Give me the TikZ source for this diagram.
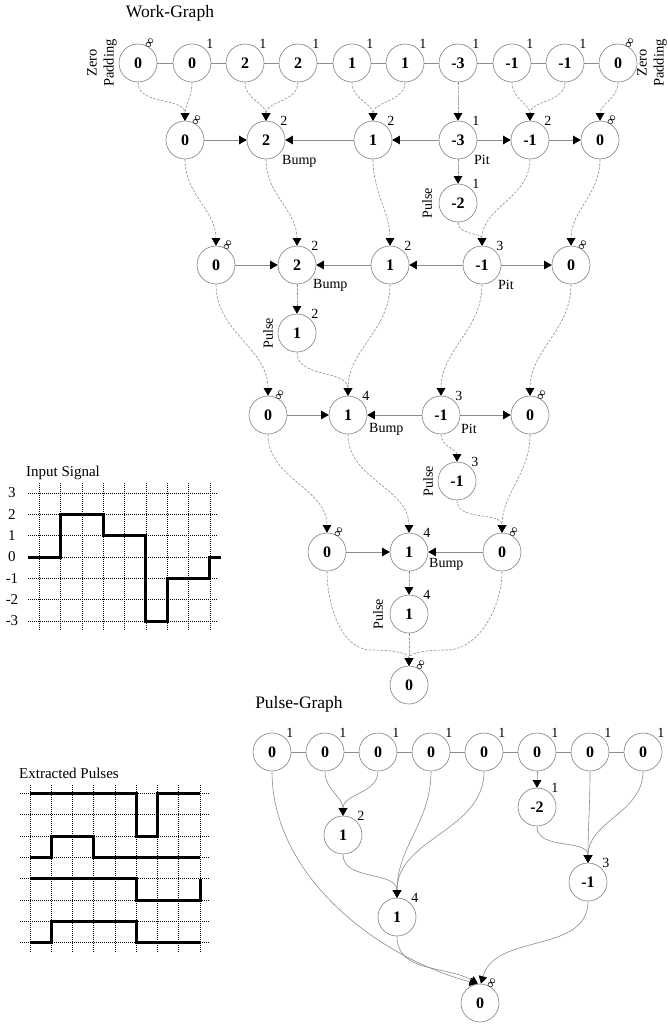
\documentclass[tikz,border=0pt]{standalone}
\usepackage{fontspec}
\setmainfont{Liberation Serif}
\usetikzlibrary{arrows.meta}
\begin{document}
\begin{tikzpicture}[x=1pt,y=-1pt,
  nd/.style={circle,draw=black!50,line width=0.6pt,minimum size=38pt,inner sep=0pt,font=\fontsize{16}{16}\selectfont\bfseries},
  lbl/.style={font=\fontsize{14}{14}\selectfont,inner sep=0.5pt},
  lab/.style={label={[lbl]45:#1}},
  linf/.style={label={[lbl,rotate=60,anchor=center,label distance=6pt]45:∞}},
  title/.style={font=\fontsize{17.5}{18}\selectfont,inner sep=0pt},
  stitle/.style={font=\fontsize{15}{16}\selectfont,inner sep=0pt},
  pad/.style={font=\fontsize{14.5}{17}\selectfont,rotate=90,align=center,inner sep=0pt},
  pls/.style={font=\fontsize{14}{14}\selectfont,rotate=90,inner sep=0pt},
  bp/.style={font=\fontsize{14}{14}\selectfont,anchor=west,inner sep=0pt},
  link/.style={draw=black!45,line width=0.6pt},
  tip/.style={-{Triangle[length=7.5pt,width=8.5pt,color=black]}},
  dsh/.style={link,tip,dash pattern=on 2.5pt off 1.5pt},
  sol/.style={link,tip},
  gridl/.style={black,line width=0.6pt,dash pattern=on 1pt off 1pt},
  sig/.style={black,line width=3pt},
  axl/.style={font=\fontsize{15}{15}\selectfont,inner sep=0pt},
]
\useasboundingbox (0,0) rectangle (668,1025);

% ---------------- Work graph ----------------
\node[title] (wgt) at (170,13) {Work-Graph};

\node[nd,linf]  (a1)  at (138,63) {0};
\node[nd,lab=1] (a2)  at (192,63) {0};
\node[nd,lab=1] (a3)  at (245,63) {2};
\node[nd,lab=1] (a4)  at (298,63) {2};
\node[nd,lab=1] (a5)  at (352,63) {1};
\node[nd,lab=1] (a6)  at (405,63) {1};
\node[nd,lab=1] (a7)  at (458,63) {-3};
\node[nd,lab=1] (a8)  at (512,63) {-1};
\node[nd,lab=1] (a9)  at (565,63) {-1};
\node[nd,linf]  (a10) at (618,63) {0};
\node[pad] (zpl) at (102,63) {Zero\\Padding};
\node[pad] (zpr) at (652,63) {Zero\\Padding};
\foreach \i/\j in {a1/a2,a2/a3,a3/a4,a4/a5,a5/a6,a6/a7,a7/a8,a8/a9,a9/a10}
  \draw[link] (\i) -- (\j);

\node[nd,linf]  (b1) at (185,140) {0};
\node[nd,lab=2] (b2) at (266,140) {2};
\node[nd,lab=2] (b3) at (373,140) {1};
\node[nd,lab=1] (b4) at (458,140) {-3};
\node[nd,lab=2] (b5) at (530,140) {-1};
\node[nd,linf]  (b6) at (600,140) {0};
\node[nd,lab=1] (pa) at (458,203) {-2};
\node[bp] (bmp1) at ([xshift=16pt,yshift=-21pt]b2.center) {Bump};
\node[bp] (pit1) at ([xshift=16pt,yshift=-20pt]b4.center) {Pit};
\node[pls] (pla) at ([xshift=-31pt]pa.center) {Pulse};

\node[nd,linf]  (c1) at (216,265) {0};
\node[nd,lab=2] (c2) at (297,265) {2};
\node[nd,lab=2] (c3) at (390,265) {1};
\node[nd,lab=3] (c4) at (482,265) {-1};
\node[nd,linf]  (c5) at (571,265) {0};
\node[nd,lab=2] (pb) at (297,333) {1};
\node[bp] (bmp2) at ([xshift=16pt,yshift=-20pt]c2.center) {Bump};
\node[bp] (pit2) at ([xshift=16pt,yshift=-20pt]c4.center) {Pit};
\node[pls] (plb) at ([xshift=-29pt]pb.center) {Pulse};

\node[nd,linf]  (d1) at (268,415) {0};
\node[nd,lab=4] (d2) at (348,415) {1};
\node[nd,lab=3] (d3) at (441,415) {-1};
\node[nd,linf]  (d4) at (530,415) {0};
\node[nd,lab=3] (pc) at (457,481) {-1};
\node[bp] (bmp3) at ([xshift=21pt,yshift=-14pt]d2.center) {Bump};
\node[bp] (pit3) at ([xshift=20pt,yshift=-14pt]d3.center) {Pit};
\node[pls] (plc) at ([xshift=-29pt]pc.center) {Pulse};

\node[nd,linf]  (e1) at (327,552) {0};
\node[nd,lab=4] (e2) at (409,552) {1};
\node[nd,linf]  (e3) at (502,552) {0};
\node[nd,lab=4] (pd) at (409,614) {1};
\node[bp] (bmp4) at ([xshift=20pt,yshift=-12pt]e2.center) {Bump};
\node[pls] (pld) at ([xshift=-31pt]pd.center) {Pulse};

\node[nd,linf] (fw) at (409,685) {0};

% dashed merges
\foreach \s/\t in {a1/b1,a2/b1,a3/b2,a4/b2,a5/b3,a6/b3,a7/b4,a8/b5,a9/b5,a10/b6,
                   b4/pa,b1/c1,b2/c2,b3/c3,pa/c4,b5/c4,b6/c5,
                   c2/pb,c1/d1,pb/d2,c3/d2,c4/d3,c5/d4,
                   d3/pc,d1/e1,d2/e2,pc/e3,d4/e3,
                   e2/pd,pd/fw}
  \draw[dsh] (\s) to[out=-90,in=90] (\t);
\draw[dsh] (e1.south) to[out=-90,in=180,looseness=0.9] (372,650) to[out=0,in=90,looseness=0.9] (fw.north);
\draw[dsh] (e3.south) to[out=-90,in=0,looseness=0.9] (446,650) to[out=180,in=90,looseness=0.9] (fw.north);
% solid arrows in rows
\foreach \s/\t in {b1/b2,b3/b2,b4/b3,b4/b5,b5/b6,
                   c1/c2,c3/c2,c4/c3,c4/c5,
                   d1/d2,d3/d2,d3/d4,
                   e1/e2,e3/e2}
  \draw[sol] (\s) -- (\t);

% ---------------- Input signal ----------------
\node[stitle] (ist) at (63,473) {Input Signal};
\foreach \v [count=\j from 0] in {3,2,1,0,-1,-2,-3}{
  \node[axl] (yl\j) at (12,{493+21.33*\j}) {\v};
  \draw[gridl] (28,{493+21.33*\j}) -- (218,{493+21.33*\j});
}
\foreach \k in {0,...,8}
  \draw[gridl] ({39.3+21.33*\k},483) -- ({39.3+21.33*\k},630);
\draw[sig] (28,557) -- (60.6,557) -- (60.6,514.3) -- (103.3,514.3) -- (103.3,535.7)
  -- (145.9,535.7) -- (145.9,621) -- (167.3,621) -- (167.3,578.3) -- (209.9,578.3)
  -- (209.9,557) -- (221,557);

% ---------------- Extracted pulses ----------------
\node[stitle] (ept) at (69,773) {Extracted Pulses};
\foreach \j in {0,...,7}
  \draw[gridl] (20,{793.3+21.33*\j}) -- (210,{793.3+21.33*\j});
\foreach \k in {0,...,8}
  \draw[gridl] ({30+21.25*\k},785) -- ({30+21.25*\k},953);
\draw[sig] (30,793.3) -- (136.25,793.3) -- (136.25,836) -- (157.5,836) -- (157.5,793.3) -- (200,793.3);
\draw[sig] (30,857.3) -- (51.25,857.3) -- (51.25,836) -- (93.75,836) -- (93.75,857.3) -- (200,857.3);
\draw[sig] (30,878.7) -- (136.25,878.7) -- (136.25,900) -- (200,900) -- (200,878.7);
\draw[sig] (30,942.7) -- (51.25,942.7) -- (51.25,921.3) -- (136.25,921.3) -- (136.25,942.7) -- (200,942.7);

% ---------------- Pulse graph ----------------
\node[title] (pgt) at (299,704) {Pulse-Graph};
\foreach \x [count=\i] in {272,325,378,431,484,537,590,643}
  \node[nd,lab=1] (p\i) at (\x,752) {0};
\foreach \i [evaluate=\i as \j using int(\i+1)] in {1,...,7}
  \draw[link] (p\i) -- (p\j);
\node[nd,lab=2] (q1) at (343,835) {1};
\node[nd,lab=1] (q2) at (537,807) {-2};
\node[nd,lab=3] (q3) at (588,882) {-1};
\node[nd,lab=4] (q4) at (397,917) {1};
\node[nd,linf]  (qf) at (480,1003) {0};
\foreach \s/\t in {p2/q1,p3/q1,q1/q4,p4/q4,p5/q4,p6/q2,q2/q3,p7/q3,p8/q3}
  \draw[sol] (\s) to[out=-90,in=90] (\t);
\draw[sol] (p1.south) to[out=-90,in=165,looseness=0.9] ([xshift=-3pt]qf.north);
\draw[sol] (q4.south) to[out=-90,in=150] ([xshift=-2pt]qf.north);
\draw[sol] (q3.south) to[out=-90,in=75] ([xshift=1pt]qf.north);
\end{tikzpicture}
\end{document}
